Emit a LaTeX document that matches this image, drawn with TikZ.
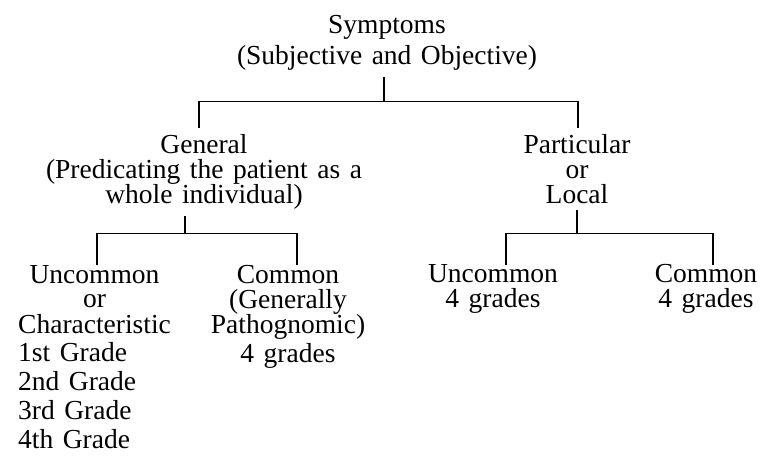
\documentclass[tikz,border=0pt]{standalone}
\usepackage{fontspec}
\setmainfont{Liberation Serif}
\usetikzlibrary{positioning,calc}
\newcommand\treefont{\fontsize{27.5}{25}\selectfont\spaceskip=9.5pt plus 2pt\relax}

\begin{document}
\lineskiplimit=-50pt
\begin{tikzpicture}[x=1pt,y=-1pt,
  lbl/.style={align=center, inner sep=0pt, font=\treefont},
  stem/.style={line width=1.1pt},
  bar/.style={line width=0.7pt}]
\useasboundingbox[fill=white] (0,0) rectangle (766,457);

% top level (anchored at the baseline of the last line)
\node[lbl, anchor=base] (sym) at (387,65) {Symptoms\\[6pt](Subjective and Objective)};
\node[lbl, anchor=base] (gen) at (204,204) {General\\(Predicating the patient as a\\whole individual)};
\node[lbl, anchor=base] (par) at (577,204) {Particular\\or\\Local};

% second level
\node[lbl, anchor=base west] (uncgen) at (18,333) {Uncommon\\or\\Characteristic};
\node[lbl, align=left, anchor=base west] (grades) at (18,448) {1st Grade\\[4pt]2nd Grade\\[4pt]3rd Grade\\[4pt]4th Grade};
\node[lbl, anchor=base] (comgen) at (288,362) {Common\\(Generally\\Pathognomic)\\[4pt]4 grades};
\node[lbl, anchor=base] (uncpar) at (493,308) {Uncommon\\4 grades};
\node[lbl, anchor=base] (compar) at (706,308) {Common\\4 grades};

% junctions and stem ends
\coordinate (symJ) at (384,101);
\coordinate (genTop) at (199,128);
\coordinate (parTop) at (578,128);
\coordinate (genJ) at (185,233);
\coordinate (parJ) at (577,233);
\coordinate (uncgenTop) at (97,265);
\coordinate (comgenTop) at (297,265);
\coordinate (uncparTop) at (506,265);
\coordinate (comparTop) at (713,265);

% connectors
\draw[stem] ([yshift=-6pt]sym.south -| symJ) -- (symJ);
\draw[bar] (symJ -| genTop) -- (symJ -| parTop);
\draw[stem] (symJ -| genTop) -- (genTop);
\draw[stem] (symJ -| parTop) -- (parTop);

\draw[stem] ([yshift=-6pt]gen.south -| genJ) -- (genJ);
\draw[bar] (genJ -| uncgenTop) -- (genJ -| comgenTop);
\draw[stem] (genJ -| uncgenTop) -- (uncgenTop);
\draw[stem] (genJ -| comgenTop) -- (comgenTop);

\draw[stem] ([yshift=-6pt]par.south -| parJ) -- (parJ);
\draw[bar] (parJ -| uncparTop) -- (parJ -| comparTop);
\draw[stem] (parJ -| uncparTop) -- (uncparTop);
\draw[stem] (parJ -| comparTop) -- (comparTop);
\end{tikzpicture}
\end{document}
